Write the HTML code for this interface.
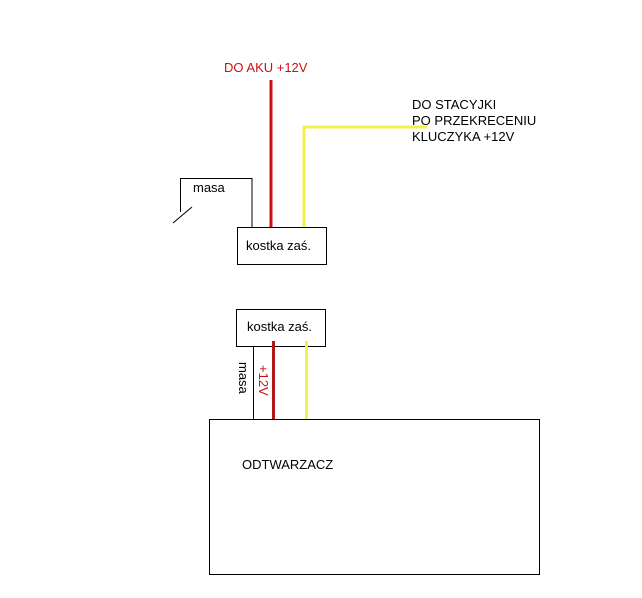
<!DOCTYPE html>
<html><head><meta charset="utf-8"><style>
html,body{margin:0;padding:0;background:#fff;}
svg{display:block;}
text{font-family:"Liberation Sans",sans-serif;font-size:13px;}
</style></head><body>
<svg width="642" height="598" xmlns="http://www.w3.org/2000/svg">
<rect width="642" height="598" fill="#fff"/>
<text x="224" y="72" fill="#d01010">DO AKU +12V</text>
<text x="412" y="109" fill="#000">DO STACYJKI</text>
<text x="412" y="125" fill="#000">PO PRZEKRECENIU</text>
<text x="412" y="141" fill="#000">KLUCZYKA +12V</text>
<line x1="271" y1="80" x2="271" y2="227" stroke="#d01010" stroke-width="3"/>
<polyline points="304,227 304,127 427,127" fill="none" stroke="#f5f04a" stroke-width="3"/>
<polyline points="252,227 252,178.5 180.5,178.5 180.5,212" fill="none" stroke="#000" stroke-width="1"/>
<line x1="173" y1="223" x2="192" y2="207" stroke="#000" stroke-width="1"/>
<text x="193" y="192" fill="#000">masa</text>
<rect x="237.5" y="227.5" width="89" height="37" fill="#fff" stroke="#000"/>
<text x="246" y="250" fill="#000">kostka zaś.</text>
<rect x="236.5" y="309.5" width="89" height="37" fill="#fff" stroke="#000"/>
<text x="247" y="331" fill="#000">kostka zaś.</text>
<line x1="253.5" y1="346" x2="253.5" y2="419" stroke="#000"/>
<line x1="273.5" y1="341" x2="273.5" y2="419" stroke="#b01818" stroke-width="3"/>
<line x1="306.5" y1="341" x2="306.5" y2="419" stroke="#f5f04a" stroke-width="3"/>
<text transform="translate(239,362) rotate(90)" fill="#000">masa</text>
<text transform="translate(259,365) rotate(90)" fill="#d01010">+12V</text>
<rect x="209.5" y="419.5" width="330" height="155" fill="none" stroke="#000"/>
<text x="242" y="469" fill="#000">ODTWARZACZ</text>
</svg>
</body></html>
